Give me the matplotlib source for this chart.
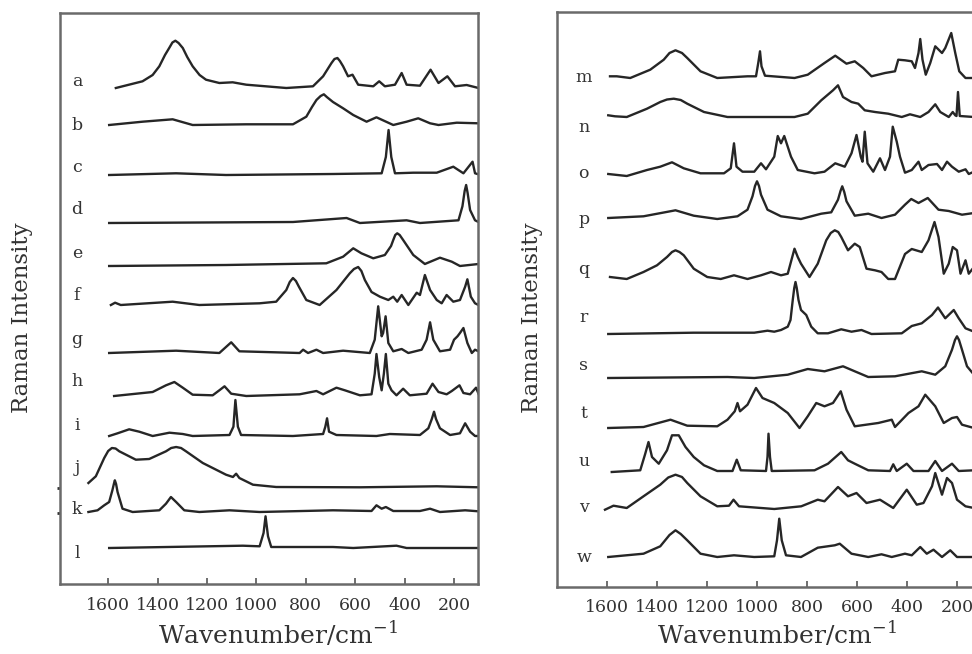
import matplotlib.pyplot as plt

plt.rcParams['font.family'] = ['DejaVu Serif']

# traces: wavenumber (cm-1) and height above own baseline
a_wn = [1569, 1461, 1420, 1393, 1370, 1353, 1340, 1328, 1315, 1298, 1280, 1258, 1230, 1204, 1150, 1096, 1041, 879, 771, 730, 696, 684, 672, 662, 649, 629, 611, 588, 527, 503, 480, 439, 412, 392, 338, 295, 263, 227, 196, 149, 101]
a_int = [0, 6.7, 13, 21.7, 33, 40, 45.5, 47.3, 45, 40, 31, 21.7, 13, 8.3, 5, 5.7, 3.3, 0, 1.7, 11.7, 25, 29, 30, 27, 21.7, 11.7, 13.3, 3.3, 1.7, 6.7, 1.7, 3.3, 15, 3.3, 2.3, 18.3, 5, 11.7, 1.7, 3, 0]

b_wn = [1596, 1461, 1339, 1258, 1041, 852, 798, 775, 757, 740, 727, 715, 690, 649, 608, 554, 514, 446, 392, 345, 297, 263, 189, 101]
b_int = [0, 3.3, 5.7, 0, 0.7, 0.7, 8.3, 18, 25, 29, 30.7, 28, 23, 16.7, 10, 3.3, 7.7, 0, 3.3, 6.7, 1.7, 0, 2.3, 1.7]

c_wn = [1596, 1325, 1123, 690, 493, 476, 465, 454, 439, 365, 270, 203, 162, 125, 115, 101]
c_int = [0, 1.7, 0, 1, 1.7, 18, 45, 18, 1.7, 2.3, 2.3, 8.3, 1.7, 13.3, 1.7, 0.7]

d_wn = [1596, 852, 635, 581, 392, 338, 182, 166, 157, 151, 145, 135, 115, 101]
d_int = [0, 1, 5, 0, 2.7, 0, 2.7, 16.7, 32, 38, 30, 13, 2.7, 1]

e_wn = [1596, 1123, 717, 649, 608, 575, 527, 480, 455, 446, 438, 430, 420, 406, 365, 318, 257, 209, 176, 101]
e_int = [0, 1, 2.7, 9.3, 17.7, 12.7, 7.7, 11, 20, 26, 31, 32.7, 31, 26, 11, 2, 8.3, 4.3, 0, 2]

f_wn = [1589, 1572, 1549, 1339, 1231, 987, 920, 879, 865, 852, 840, 828, 798, 744, 676, 622, 605, 588, 575, 561, 534, 500, 466, 446, 430, 412, 385, 351, 338, 318, 297, 270, 250, 230, 203, 176, 155, 146, 132, 115, 101]
f_int = [0, 2.3, 0, 3.3, 0, 1.7, 3.3, 15, 23, 27, 24, 18.3, 5, 0, 15, 31.7, 36, 38, 34, 25, 13, 8.3, 5, 8.3, 3.3, 10, 0, 12.3, 10, 30, 15, 5, 1.7, 10, 3.3, 5, 18.3, 25.7, 8.3, 1.7, 0]

g_wn = [1596, 1325, 1150, 1102, 1069, 825, 811, 791, 757, 730, 649, 541, 521, 507, 493, 487, 477, 466, 446, 412, 385, 331, 311, 297, 284, 257, 216, 200, 186, 176, 162, 146, 128, 115, 101]
g_int = [0, 2.3, 0, 10.7, 1.7, 0, 3.3, 0, 3.3, 0, 2.3, 0, 13.3, 46.7, 16.7, 20, 36.7, 10, 1.7, 4, 0, 3.3, 13.3, 30.7, 13.3, 1.7, 3.3, 13.3, 16.7, 20, 25, 10, 0, 3.3, 1.7]

h_wn = [1576, 1420, 1366, 1332, 1298, 1258, 1177, 1150, 1129, 1102, 1041, 825, 757, 730, 676, 642, 581, 534, 521, 514, 503, 493, 484, 476, 466, 453, 433, 406, 379, 311, 287, 263, 230, 209, 178, 162, 135, 111, 101]
h_int = [0, 4, 10.7, 14, 8.3, 1.3, 0.7, 5.7, 9.7, 2.3, 0, 1.7, 5, 1.7, 8.3, 5.7, 0.7, 1.7, 22.3, 42, 19, 5.7, 22.3, 42, 12.3, 5.7, 0.7, 7.3, 0.7, 2.3, 12.3, 4, 1.7, 5, 10.7, 3, 1.7, 8.3, 2.3]

i_wn = [1596, 1562, 1515, 1474, 1420, 1352, 1298, 1258, 1109, 1093, 1085, 1075, 1062, 852, 730, 721, 714, 706, 676, 514, 460, 338, 304, 290, 281, 273, 257, 216, 176, 155, 135, 115, 101]
i_int = [0, 2.7, 6.7, 4.3, 0, 3.3, 2, 0, 1, 9.3, 36, 9.3, 1, 0, 2, 9.3, 17.7, 4.3, 1, 0, 2, 1, 7.7, 17, 24.3, 17, 7.7, 1, 2.7, 12.7, 4.3, 0, 0]

j_wn = [1680, 1650, 1616, 1600, 1585, 1570, 1555, 1488, 1434, 1366, 1345, 1325, 1305, 1285, 1217, 1123, 1095, 1082, 1069, 1014, 920, 581, 270, 101]
j_int = [5, 11.7, 30, 37, 40, 39.5, 36.7, 28.3, 29, 36.7, 40, 41, 40, 36.7, 25, 13.3, 11, 14.3, 10, 3.3, 1, 0.7, 1.7, 0.7]

k_wn = [1680, 1643, 1616, 1596, 1583, 1577, 1573, 1568, 1562, 1542, 1501, 1393, 1366, 1346, 1325, 1292, 1231, 1109, 987, 690, 534, 514, 493, 476, 446, 338, 297, 257, 155, 101]
k_int = [0, 1.7, 6.7, 10, 21.7, 28, 31.7, 28, 20, 3.3, 0, 1.7, 8.3, 15, 10, 1.7, 0, 1.7, 0, 1.7, 1, 6.7, 3.3, 5, 1, 1, 3.3, 0, 1.7, 0.7]

l_wn = [1596, 1055, 987, 971, 963, 953, 940, 690, 608, 433, 392, 101]
l_int = [0, 2.3, 1.7, 15, 31.7, 11.7, 1, 1, 0, 2.3, 0, 0]

m_wn = [1588, 1561, 1507, 1427, 1373, 1350, 1326, 1300, 1279, 1226, 1159, 1038, 1004, 995, 988, 982, 968, 850, 797, 730, 687, 642, 609, 575, 542, 488, 448, 435, 408, 381, 368, 354, 347, 338, 325, 307, 287, 260, 247, 223, 207, 191, 166, 132, 100]
m_int = [1.7, 1.7, 0, 8.3, 18.3, 25, 27.7, 25, 20, 6.7, 0, 1.7, 1.7, 15, 26.7, 11.7, 2.3, 0, 3.3, 15, 22.3, 14.3, 16.7, 10, 1.7, 5, 6.7, 18.3, 17.7, 16.7, 10, 25, 39, 18.3, 3.3, 15, 31.7, 25, 30, 45, 25, 6.7, 0, 0, 0]

n_wn = [1595, 1568, 1521, 1440, 1387, 1360, 1333, 1305, 1279, 1212, 1118, 850, 797, 743, 696, 676, 656, 622, 595, 569, 528, 475, 421, 388, 347, 314, 287, 267, 233, 217, 207, 202, 196, 189, 132, 100]
n_int = [1.7, 0.7, 0, 8.3, 15, 17.5, 18.3, 17, 13.3, 5, 0, 0, 3.3, 16.7, 26.7, 31.7, 20, 15, 13.3, 6.7, 5, 3.3, 0, 2.7, 0, 5, 12.7, 5, 0, 5, 1.7, 1, 25, 1, 0, 0]

o_wn = [1595, 1521, 1440, 1387, 1340, 1293, 1226, 1132, 1105, 1092, 1082, 1058, 1011, 984, 964, 931, 917, 904, 891, 864, 837, 770, 730, 687, 649, 622, 602, 585, 578, 569, 558, 535, 508, 488, 468, 457, 441, 428, 408, 381, 354, 341, 314, 280, 260, 240, 220, 193, 166, 153, 132, 100]
o_int = [0, -2, 4, 7.3, 11.7, 5.7, 0.7, 0.7, 5.7, 30.7, 7.3, 2.3, 2.3, 10.7, 4.7, 17.3, 38, 30.7, 38, 17.3, 4, 0.7, 2.3, 10.7, 7.3, 20.7, 39, 17.3, 12.3, 42.3, 10.7, 2.3, 15.7, 4, 17.3, 47.3, 32.3, 17.3, 1.3, 4, 12.3, 4, 9, 10, 4, 12.3, 7.3, 2.3, 4.7, 0, 2.3, 2]

p_wn = [1595, 1454, 1326, 1253, 1159, 1078, 1038, 1018, 1008, 1000, 992, 984, 958, 904, 824, 743, 703, 676, 666, 659, 651, 642, 609, 555, 502, 448, 408, 383, 354, 317, 274, 233, 180, 132, 100]
p_int = [1, 2.7, 8.7, 3.3, 0, 2.7, 9.3, 22.7, 33, 37.7, 33, 24.3, 9.3, 2.7, 0, 5.3, 6.7, 19.3, 28, 32.7, 27, 17.7, 3.3, 5.3, 1, 4.3, 14.3, 20, 16, 21, 9.3, 8, 4.3, 6, 5]

q_wn = [1588, 1521, 1454, 1400, 1360, 1340, 1326, 1310, 1293, 1253, 1199, 1145, 1092, 1038, 984, 944, 904, 877, 850, 837, 824, 790, 757, 723, 705, 689, 675, 663, 636, 609, 589, 562, 528, 502, 475, 448, 408, 381, 341, 314, 290, 274, 253, 233, 217, 200, 186, 166, 153, 132, 100]
q_int = [0, -2, 5, 11.7, 20, 25, 26.7, 25, 21.7, 8.3, 0, -2, 1.7, -2, 1.7, 5, 1.7, 3.3, 28.3, 20, 13.3, 0, 13.3, 36.7, 44, 46.7, 45, 40, 26.7, 33.3, 30, 8.3, 6.7, 5, -2, -2, 23, 28, 25, 36.7, 55, 40, 3.3, 13.3, 30, 26.7, 3.3, 16.7, 3.3, 10, 5]

r_wn = [1595, 1253, 1011, 958, 931, 904, 877, 866, 857, 851, 846, 841, 834, 824, 803, 783, 757, 716, 663, 622, 582, 542, 421, 381, 341, 300, 276, 247, 213, 193, 166, 132, 100]
r_int = [0, 1.3, 1.3, 3.3, 2.3, 4, 7.3, 14, 34, 46, 52, 46, 34, 24, 19, 7.3, 0.7, 0.7, 4.7, 2.3, 4, 0, 0.7, 8, 10.7, 19, 26.5, 15.7, 24, 15.7, 5.7, 2.3, 1]

s_wn = [1595, 1118, 1011, 877, 797, 730, 656, 609, 555, 448, 341, 287, 247, 220, 208, 200, 192, 180, 160, 132, 100]
s_int = [0, 1, 0, 3.3, 9, 6.7, 11.7, 6.7, 1, 1.7, 6.7, 3.3, 11.7, 28.3, 38, 41.7, 38, 28.3, 11.7, 3.3, 1]

t_wn = [1595, 1454, 1346, 1279, 1159, 1118, 1089, 1078, 1068, 1038, 1004, 978, 931, 877, 830, 797, 763, 730, 696, 665, 642, 609, 515, 461, 448, 394, 354, 327, 287, 253, 220, 200, 180, 132, 100]
t_int = [0, 1, 8.3, 2.3, 1.7, 8.3, 16.7, 25, 16.7, 23.3, 40, 30, 25, 15, 0, 11.7, 25, 21.7, 25, 36.7, 18.3, 1.7, 5, 8.3, 1, 15, 21.7, 33.3, 21.7, 5, 10, 11, 3.3, 0, 0]

u_wn = [1581, 1467, 1447, 1434, 1420, 1393, 1360, 1340, 1313, 1286, 1253, 1212, 1159, 1098, 1081, 1065, 964, 958, 954, 948, 941, 770, 716, 663, 636, 609, 555, 468, 455, 441, 401, 374, 314, 287, 260, 220, 193, 132, 100]
u_int = [0, 1.7, 18.3, 30, 15, 8.3, 21.7, 36.7, 36.7, 25, 15, 6.7, 1, 1, 12.3, 1.7, 1, 15, 38.3, 15, 1, 1.7, 8.3, 20, 11.7, 8.3, 1.7, 1, 7.7, 1, 8.3, 1, 1, 11, 1, 8.3, 1, 1.7, 1]

v_wn = [1608, 1574, 1521, 1454, 1387, 1355, 1326, 1300, 1279, 1226, 1159, 1112, 1094, 1072, 931, 823, 757, 730, 676, 636, 602, 562, 508, 455, 401, 361, 334, 300, 287, 260, 240, 220, 200, 166, 132, 100]
v_int = [-1.7, 2.3, 0, 11.7, 23.3, 30.5, 33.3, 31, 25, 11.7, 1.7, 2.3, 8.3, 1.7, -1, 1.7, 8.3, 6.7, 21, 11.7, 15, 5, 8.3, 0, 18.3, 3.3, 5, 21.7, 35, 13.3, 30, 25, 8.3, 1.7, 0, 0]

w_wn = [1595, 1454, 1387, 1350, 1326, 1305, 1279, 1226, 1159, 1092, 1011, 931, 920, 911, 901, 884, 824, 757, 689, 669, 622, 555, 502, 461, 408, 381, 347, 321, 294, 260, 227, 200, 132, 100]
w_int = [0, 3.3, 10.7, 22, 26.7, 23, 16.7, 3.3, 0, 1.7, 0, 0.7, 16.7, 38.3, 16.7, 1.7, 0, 9.3, 11.7, 13.3, 3.3, 0, 2.7, 0, 3.3, 1.7, 10, 3.3, 7.3, 0, 6.7, 0, 0, 0]

ticks = [1600, 1400, 1200, 1000, 800, 600, 400, 200]

left_traces = [('a', a_wn, a_int), ('b', b_wn, b_int), ('c', c_wn, c_int),
               ('d', d_wn, d_int), ('e', e_wn, e_int), ('f', f_wn, f_int),
               ('g', g_wn, g_int), ('h', h_wn, h_int), ('i', i_wn, i_int),
               ('j', j_wn, j_int), ('k', k_wn, k_int), ('l', l_wn, l_int)]
right_traces = [('m', m_wn, m_int), ('n', n_wn, n_int), ('o', o_wn, o_int),
                ('p', p_wn, p_int), ('q', q_wn, q_int), ('r', r_wn, r_int),
                ('s', s_wn, s_int), ('t', t_wn, t_int), ('u', u_wn, u_int),
                ('v', v_wn, v_int), ('w', w_wn, w_int)]

# layout: baseline and label height of every trace, counted down from the top
left_base = [88, 125, 175, 223, 266, 305, 353, 396, 436, 488, 512, 548]
left_lab = [82, 125, 167, 210, 253, 295, 340, 382, 425, 468, 510, 553]
right_base = [78, 117, 174, 219, 277, 334, 378, 428, 472, 508, 557]
right_lab = [78, 127, 173, 220, 270, 317, 366, 413, 462, 508, 557]

W, H = 972, 654
fig = plt.figure(figsize=(W / 100, H / 100), dpi=100)


def add_px_axes(x0, y0, x1, y1):
    return fig.add_axes([x0 / W, 1 - y1 / H, (x1 - x0) / W, (y1 - y0) / H])


def draw_panel(ax, traces, bases, labs, xlim, ylim, label_x):
    for (name, wn, inten), base, lab in zip(traces, bases, labs):
        ax.plot(wn, [v - base for v in inten], color='#262626', lw=1.7,
                solid_joinstyle='round')
        ax.text(label_x, -lab, name, fontsize=12.5, color='#333333',
                ha='center', va='center')
    ax.set_xlim(*xlim)
    ax.set_ylim(*ylim)
    ax.set_xticks(ticks)
    ax.set_xticklabels([str(t) for t in ticks])
    ax.tick_params(axis='x', direction='in', length=4, width=1.2,
                   labelsize=12.5, pad=9, colors='#555555', labelcolor='#333333')
    for sp in ax.spines.values():
        sp.set_color('#6a6a6a')
        sp.set_linewidth(1.8)


axL = add_px_axes(60, 13, 478, 584)
draw_panel(axL, left_traces, left_base, left_lab, (1795, 103), (-584, -13), 1726)
axL.set_yticks([-488, -513])
axL.set_yticklabels([])
axL.tick_params(axis='y', direction='out', length=2, width=2, colors='#333333')

axR = add_px_axes(557, 12, 982, 587)
draw_panel(axR, right_traces, right_base, right_lab, (1800, 100), (-587, -12), 1693)
axR.set_yticks([])

# axis titles
for cx in (278, 777):
    fig.text(cx / W, 1 - 635 / H, r'Wavenumber/cm$^{\mathregular{-1}}$',
             fontsize=18, color='#333333', ha='center', va='center')
for cx in (22, 532):
    fig.text(cx / W, 1 - 318 / H, 'Raman Intensity', fontsize=16.5,
             color='#333333', ha='center', va='center', rotation=90)

fig.savefig('out.png', dpi=100)
